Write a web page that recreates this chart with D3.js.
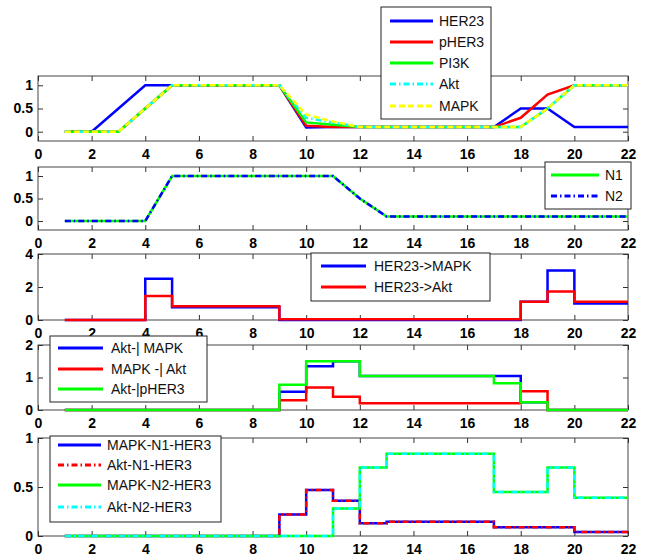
<!DOCTYPE html>
<html>
<head>
<meta charset="utf-8">
<script src="https://cdn.jsdelivr.net/npm/d3@7/dist/d3.min.js"></script>
<style>
  body { margin: 0; background: #fff; }
  text { font-family: "Liberation Sans", Arial, sans-serif; }
</style>
</head>
<body>
<div id="chart"></div>
<script>
// time points shared by every panel
const days = [1, 2, 3, 4, 5, 6, 7, 8, 9, 10, 11, 12, 13, 14, 15, 16, 17, 18, 19, 20, 21, 22];
const xTicks = [0, 2, 4, 6, 8, 10, 12, 14, 16, 18, 20, 22];

// panel 1: node activities
const her23 = [0, 0, 0.5, 1, 1, 1, 1, 1, 1, 0.09, 0.1, 0.1, 0.1, 0.1, 0.1, 0.1, 0.1, 0.5, 0.5, 0.1, 0.1, 0.1];
const pher3 = [0, 0, 0, 0.5, 1, 1, 1, 1, 1, 0.13, 0.1, 0.1, 0.1, 0.1, 0.1, 0.1, 0.1, 0.3, 0.8, 1, 1, 1];
const pi3k = [0, 0, 0, 0.5, 1, 1, 1, 1, 1, 0.2, 0.15, 0.1, 0.1, 0.1, 0.1, 0.1, 0.1, 0.1, 0.5, 1, 1, 1];
const akt = [0, 0, 0, 0.5, 1, 1, 1, 1, 1, 0.3, 0.2, 0.1, 0.1, 0.1, 0.1, 0.1, 0.1, 0.1, 0.5, 1, 1, 1];
const mapk = [0, 0, 0, 0.5, 1, 1, 1, 1, 1, 0.37, 0.22, 0.1, 0.1, 0.1, 0.1, 0.1, 0.1, 0.1, 0.5, 1, 1, 1];

// panel 2
const n1 = [0, 0, 0, 0, 1, 1, 1, 1, 1, 1, 1, 0.5, 0.1, 0.1, 0.1, 0.1, 0.1, 0.1, 0.1, 0.1, 0.1, 0.1];
const n2 = [0, 0, 0, 0, 1, 1, 1, 1, 1, 1, 1, 0.5, 0.1, 0.1, 0.1, 0.1, 0.1, 0.1, 0.1, 0.1, 0.1, 0.1];

// panel 3 (stairs)
const her23ToMapk = [0, 0, 0, 2.5, 0.78, 0.78, 0.78, 0.78, 0, 0, 0, 0, 0, 0, 0, 0, 0, 1.1, 3, 1, 1, 1];
const her23ToAkt = [0, 0, 0, 1.45, 0.84, 0.84, 0.84, 0.84, 0.05, 0.05, 0.05, 0.05, 0.05, 0.05, 0.05, 0.05, 0.05, 1.1, 1.73, 1.1, 1.1, 1.1];

// panel 4 (stairs)
const aktInhMapk = [0, 0, 0, 0, 0, 0, 0, 0, 0.56, 1.35, 1.5, 1.05, 1.05, 1.05, 1.05, 1.05, 1.05, 0.24, 0, 0, 0, 0];
const mapkInhAkt = [0, 0, 0, 0, 0, 0, 0, 0, 0.3, 0.69, 0.41, 0.21, 0.21, 0.21, 0.21, 0.21, 0.21, 0.58, 0, 0, 0, 0];
const aktInhPher3 = [0, 0, 0, 0, 0, 0, 0, 0, 0.78, 1.5, 1.5, 1.05, 1.05, 1.05, 1.05, 1.05, 0.82, 0.24, 0, 0, 0, 0];

// panel 5 (stairs)
const mapkN1Her3 = [0, 0, 0, 0, 0, 0, 0, 0, 0.22, 0.47, 0.36, 0.13, 0.145, 0.145, 0.145, 0.145, 0.09, 0.09, 0.09, 0.04, 0.04, 0.04];
const aktN1Her3 = [0, 0, 0, 0, 0, 0, 0, 0, 0.22, 0.47, 0.36, 0.13, 0.145, 0.145, 0.145, 0.145, 0.09, 0.09, 0.09, 0.04, 0.04, 0.04];
const mapkN2Her3 = [0, 0, 0, 0, 0, 0, 0, 0, 0, 0, 0.28, 0.7, 0.84, 0.84, 0.84, 0.84, 0.45, 0.45, 0.7, 0.39, 0.39, 0.39];
const aktN2Her3 = [0, 0, 0, 0, 0, 0, 0, 0, 0, 0, 0.28, 0.7, 0.84, 0.84, 0.84, 0.84, 0.45, 0.45, 0.7, 0.39, 0.39, 0.39];

const width = 651;
const height = 556;
const left = 38;
const right = 628;

const dashes = {solid: null, dashed: "6,3", dashdot: "6,3,1.5,3"};

const panels = [
    {top: 76, bottom: 141, domain: [-0.2, 1.2], ticks: [0, 0.5, 1], step: false,
        series: [
            {name: "HER23", values: her23, color: "#0000ff", style: "solid"},
            {name: "pHER3", values: pher3, color: "#ff0000", style: "solid"},
            {name: "PI3K", values: pi3k, color: "#00ff00", style: "solid"},
            {name: "Akt", values: akt, color: "#00ffff", style: "dashdot"},
            {name: "MAPK", values: mapk, color: "#ffff00", style: "dashed"}
        ],
        legend: {x: 381, y: 7, w: 110, h: 112, rows: [21, 42, 63, 84, 106], lineX: [390, 433], textX: 439}},
    {top: 167, bottom: 230, domain: [-0.2, 1.2], ticks: [0, 0.5, 1], step: false,
        series: [
            {name: "N1", values: n1, color: "#00ff00", style: "solid"},
            {name: "N2", values: n2, color: "#0000ff", style: "dashdot"}
        ],
        legend: {x: 545, y: 162, w: 86, h: 47, rows: [175, 196], lineX: [551, 599], textX: 605}},
    {top: 254, bottom: 320, domain: [0, 4], ticks: [0, 2, 4], step: true,
        series: [
            {name: "HER23->MAPK", values: her23ToMapk, color: "#0000ff", style: "solid"},
            {name: "HER23->Akt", values: her23ToAkt, color: "#ff0000", style: "solid"}
        ],
        legend: {x: 311, y: 253, w: 179, h: 48, rows: [266, 287], lineX: [321, 366], textX: 374}},
    {top: 345, bottom: 410, domain: [0, 2], ticks: [0, 1, 2], step: true,
        series: [
            {name: "Akt-| MAPK", values: aktInhMapk, color: "#0000ff", style: "solid"},
            {name: "MAPK -| Akt", values: mapkInhAkt, color: "#ff0000", style: "solid"},
            {name: "Akt-|pHER3", values: aktInhPher3, color: "#00ff00", style: "solid"}
        ],
        legend: {x: 50, y: 336, w: 157, h: 66, rows: [348, 369, 389], lineX: [58, 103], textX: 111}},
    {top: 438, bottom: 536, domain: [0, 1], ticks: [0, 0.5, 1], step: true,
        series: [
            {name: "MAPK-N1-HER3", values: mapkN1Her3, color: "#0000ff", style: "solid"},
            {name: "Akt-N1-HER3", values: aktN1Her3, color: "#ff0000", style: "dashdot"},
            {name: "MAPK-N2-HER3", values: mapkN2Her3, color: "#00ff00", style: "solid"},
            {name: "Akt-N2-HER3", values: aktN2Her3, color: "#00ffff", style: "dashdot"}
        ],
        legend: {x: 50, y: 436, w: 171, h: 86, rows: [445, 465, 485, 507], lineX: [58, 101], textX: 107}}
];

const svg = d3.select("#chart")
    .append("svg")
    .attr("width", width)
    .attr("height", height);

const x = d3.scaleLinear().domain([0, 22]).range([left, right]);

const styleAxis = (g, showText) => {
    g.select(".domain").remove();
    g.selectAll("line").attr("stroke", "#333");
    g.selectAll("text")
        .attr("fill", "#000")
        .style("font-size", "14px")
        .style("font-weight", "bold")
        .style("display", showText ? null : "none");
};

const drawPanel = (p) => {
    const y = d3.scaleLinear().domain(p.domain).range([p.bottom, p.top]);
    const g = svg.append("g");

    g.append("rect")
        .attr("x", left).attr("y", p.top)
        .attr("width", right - left).attr("height", p.bottom - p.top)
        .attr("fill", "#fff").attr("stroke", "#444").attr("stroke-width", 1);

    g.append("g").attr("transform", `translate(0, ${p.bottom})`)
        .call(d3.axisBottom(x).tickValues(xTicks).tickSize(-5).tickPadding(8).tickFormat(d3.format("d")))
        .call(a => styleAxis(a, true));
    g.append("g").attr("transform", `translate(0, ${p.top})`)
        .call(d3.axisTop(x).tickValues(xTicks).tickSize(-5))
        .call(a => styleAxis(a, false));
    g.append("g").attr("transform", `translate(${left}, 0)`)
        .call(d3.axisLeft(y).tickValues(p.ticks).tickSize(-5).tickPadding(5).tickFormat(d => String(d)))
        .call(a => styleAxis(a, true));
    g.append("g").attr("transform", `translate(${right}, 0)`)
        .call(d3.axisRight(y).tickValues(p.ticks).tickSize(-5))
        .call(a => styleAxis(a, false));

    const line = d3.line()
        .x((d, i) => x(days[i]))
        .y(d => y(d))
        .curve(p.step ? d3.curveStepAfter : d3.curveLinear);

    p.series.forEach(s => {
        g.append("path")
            .datum(s.values)
            .attr("fill", "none")
            .attr("stroke", s.color)
            .attr("stroke-width", 2.5)
            .attr("stroke-dasharray", dashes[s.style])
            .attr("d", line);
    });
};

const drawLegend = (p) => {
    const L = p.legend;
    const g = svg.append("g");
    g.append("rect")
        .attr("x", L.x).attr("y", L.y).attr("width", L.w).attr("height", L.h)
        .attr("fill", "#fff").attr("stroke", "#222").attr("stroke-width", 1);
    p.series.forEach((s, i) => {
        g.append("line")
            .attr("x1", L.lineX[0]).attr("x2", L.lineX[1])
            .attr("y1", L.rows[i]).attr("y2", L.rows[i])
            .attr("stroke", s.color).attr("stroke-width", 3)
            .attr("stroke-dasharray", dashes[s.style]);
        g.append("text")
            .attr("x", L.textX).attr("y", L.rows[i])
            .attr("dy", "0.35em")
            .style("font-size", "14px")
            .attr("fill", "#111")
            .text(s.name);
    });
};

panels.forEach(drawPanel);
panels.forEach(drawLegend);
</script>
</body>
</html>
